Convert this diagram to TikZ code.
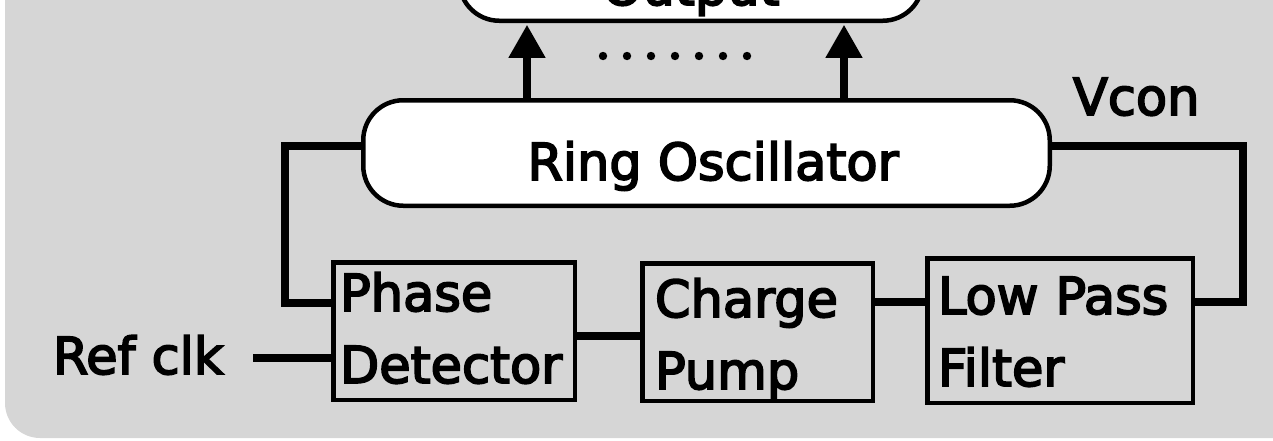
\documentclass[tikz,border=0pt]{standalone}
\usepackage{fontspec}
\setmainfont[FakeBold=3.5]{DejaVu Sans}
\usetikzlibrary{arrows.meta}
\definecolor{panel}{HTML}{D6D6D6}
\begin{document}
\begin{tikzpicture}[x=1pt,y=-1pt,
  every node/.style={inner sep=0pt, outer sep=0pt},
  lbl/.style={font=\fontsize{51}{72}\selectfont},
  pill/.style={draw, line width=4.5pt, fill=white, rounded corners=40pt, lbl},
  block/.style={draw, line width=4.5pt, lbl, align=left},
  wire/.style={line width=7.5pt},
  feed/.style={line width=7.5pt, -{Triangle[length=33pt,width=35pt]}, shorten >=4pt},
]
\useasboundingbox (0,0) rectangle (1273,440);
\clip (0,0) rectangle (1273,440);
% panel background
\fill[panel, rounded corners=35pt] (5,-100) rectangle (1400,438);

% blocks
\node[pill, minimum width=463.5pt, minimum height=105.5pt,
      text height=74pt, text depth=0pt] (out) at (691,-32) {Output};
\node[pill, minimum width=686.5pt, minimum height=105.5pt,
      text height=54pt, text depth=0pt] (ring) at (706.5,153) {\hspace*{13pt}Ring Oscillator};
\node[block, minimum height=137.5pt, inner xsep=6.75pt, text width=228pt,
      text height=40pt, text depth=80pt] (pd) at (454,331) {Phase\\Detector};
\node[block, minimum height=137.5pt, inner xsep=12.75pt, text width=205pt,
      text height=40pt, text depth=70pt] (cp) at (757.5,332) {Charge\\Pump};
\node[block, minimum height=144.5pt, inner xsep=10.75pt, text width=244pt,
      text height=40pt, text depth=73pt] (lpf) at (1060,330.5) {Low Pass\\Filter};

% labels
\node[lbl, anchor=base west] (ref) at (53,374) {Ref clk};
\node[lbl, anchor=base west] (vcon) at (1073,115) {Vcon};

% outputs of the oscillator
\draw[feed] (527,0 |- ring.north) -- (527,0 |- out.south);
\draw[feed] (844,0 |- ring.north) -- (844,0 |- out.south);
\foreach \i in {0,...,6} \fill (603+24*\i,56) circle[radius=4.2];

% loop wiring
\draw[wire] (ring.west |- 0,146) -| (285,303) -- (pd.west |- 0,303);
\draw[wire] ([xshift=30pt]ref.east |- 0,358) -- (pd.west |- 0,358);
\draw[wire] (pd.east |- 0,336) -- (cp.west |- 0,336);
\draw[wire] (cp.east |- 0,302) -- (lpf.west |- 0,302);
\draw[wire] (lpf.east |- 0,302) -| (1243,146) -- (ring.east |- 0,146);
\end{tikzpicture}
\end{document}
